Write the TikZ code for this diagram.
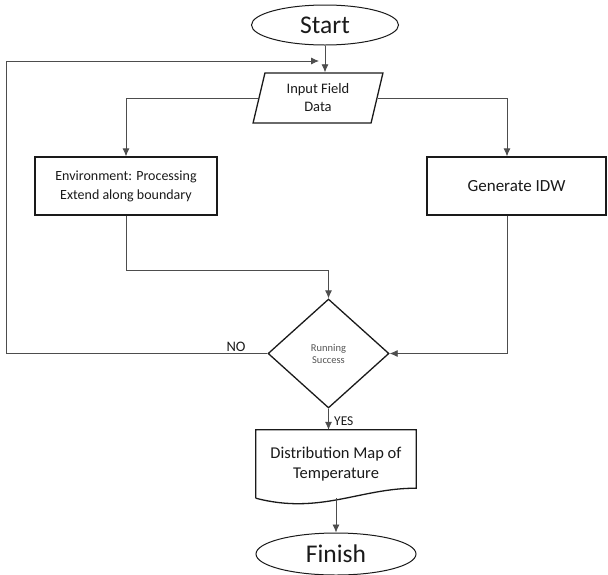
\documentclass[tikz,border=0pt]{standalone}
\usepackage{fontspec}
\setmainfont{Carlito}
\usepackage{tikz}
\usetikzlibrary{positioning, calc, shapes.geometric, arrows.meta}
\definecolor{ink}{HTML}{1A1A1A}
\definecolor{wire}{HTML}{4D4D4D}
\definecolor{soft}{HTML}{555555}

\begin{document}
\begin{tikzpicture}[x=1pt, y=-1pt,
  box/.style={draw=ink, line width=1.3pt, text=ink, align=center, inner sep=0pt},
  terminal/.style={box, ellipse, line width=1pt},
  link/.style={draw=wire, line width=0.8pt, -{Latex[length=8pt, width=7pt]}},
  tag/.style={text=ink, inner sep=0pt}
]
  \useasboundingbox (0,0) rectangle (608,574);

  \node[terminal, minimum width=147pt, minimum height=40pt,
        font=\fontsize{25.5}{28}\selectfont] (start) at (325,25) {Start};

  \node[box, trapezium, trapezium left angle=76, trapezium right angle=104,
        trapezium stretches, minimum width=130pt, minimum height=50pt,
        font=\fontsize{14.5}{18}\selectfont] (input) at (318,98) {Input Field\\Data};

  \node[box, rectangle, minimum width=182pt, minimum height=58pt,
        font=\fontsize{14}{19}\selectfont] (env) at (126,186)
        {Environment: Processing\\Extend along boundary};

  \node[box, rectangle, minimum width=179pt, minimum height=58pt,
        font=\fontsize{17}{20}\selectfont] (idw) at (516.5,186) {Generate IDW};

  \node[box, diamond, minimum width=121pt, minimum height=109pt, text=soft,
        font=\fontsize{10.5}{12}\selectfont] (check) at (328.5,353.5)
        {Running\\Success};

  \node[rectangle, minimum width=160pt, minimum height=68pt, align=center, text=ink,
        inner sep=0pt, font=\fontsize{16.5}{20}\selectfont] (result) at (336,464)
        {Distribution Map of\\Temperature};
  \draw[ink, line width=1.3pt] (result.south west) -- (result.north west)
    -- (result.north east) -- ([yshift=10pt]result.south east)
    .. controls (360,488) and (320,515) .. (result.south west);

  \node[terminal, minimum width=160pt, minimum height=42pt,
        font=\fontsize{25.5}{28}\selectfont] (finish) at (336,554) {Finish};

  \coordinate (rail) at (6,0);
  \coordinate (loopend) at (319,61);

  % connectors
  \draw[link] (start.south) -- (start.south |- input.north);
  \draw[link] (input.west) -| (env.north);
  \draw[link] (input.east) -| ([xshift=-9.5pt]idw.north);
  \draw[link] (env.south) -- ++(0,55) -| (check.north);
  \draw[link] ([xshift=-9.5pt]idw.south) |- (check.east);
  \draw[link] (check.west) -- (check.west -| rail) |- (loopend);
  \draw[link] (check.south) -- (check.south |- result.north);
  \draw[link] (result.south) -- (finish.north);

  \node[tag, font=\fontsize{14.5}{16}\selectfont, anchor=south] (no) at (236,352) {NO};
  \node[tag, font=\fontsize{13.5}{16}\selectfont, anchor=west] (yes) at (334,421) {YES};
\end{tikzpicture}
\end{document}
